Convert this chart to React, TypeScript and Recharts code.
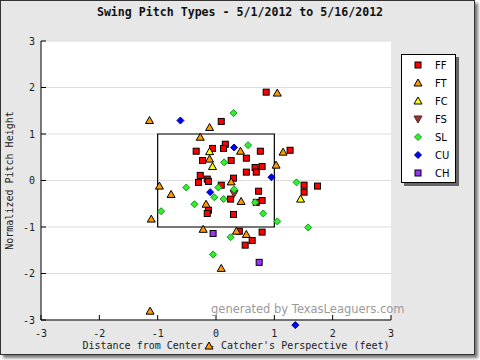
import { ScatterChart, Scatter, XAxis, YAxis, CartesianGrid, ReferenceArea } from "recharts"

// pitch locations [distance from center (ft), normalized height]
const ffPitches = [
  [0.09, 1.27], [-0.34, 0.63], [-0.06, 0.69], [-0.23, 0.43], [-0.27, 0.11],
  [0.86, 1.9], [0.16, 0.78], [0.13, 0.69], [0.76, 0.63], [1.27, 0.65],
  [0.26, 0.43], [0.52, 0.48], [0.52, 0.18], [0.67, 0.28], [0.69, 0.18],
  [0.79, 0.3], [0.3, 0.05], [-0.15, 0.03], [-0.13, -0.02], [-0.3, -0.04],
  [0.09, -0.1], [0.25, -0.4], [0.73, -0.23], [0.79, -0.43], [0.69, -0.47],
  [1.51, -0.1], [1.74, -0.12], [1.51, -0.25], [-0.13, -0.64], [-0.15, -0.71],
  [0.3, -0.73], [0.4, -1.09], [0.79, -1.11], [0.62, -1.29], [0.5, -1.39],
]
const ftPitches = [
  [-1.14, 1.29], [-0.11, 1.14], [-0.27, 0.93], [-0.11, 0.46], [1.05, 1.88],
  [0.42, 0.63], [1.15, 0.61], [1.03, 0.33], [0.26, -0.03], [0.43, -0.45],
  [-0.17, -0.51], [-0.22, -1.05], [0.35, -1.09], [0.52, -1.16], [0.09, -1.89],
  [-0.97, -0.12], [-0.77, -0.3], [-1.11, -0.83], [-1.13, -2.81], [-0.12, -3.56],
]
const fcPitches = [[-0.11, 0.62], [-0.06, 0.3], [1.45, -0.4]]
const fsPitches = [[0.31, -0.28]]
const slPitches = [
  [0.3, 1.45], [0.55, 0.76], [0.14, 0.39], [0.31, -0.19], [0.04, -0.15],
  [-0.03, -0.36], [0.13, -0.4], [0.67, -0.47], [1.38, -0.04], [0.81, -0.71],
  [1.05, -0.88], [1.58, -1.01], [0.25, -1.22], [-0.05, -1.59], [-0.51, -0.15],
  [-0.37, -0.51], [-0.94, -0.66],
]
const cuPitches = [[-0.61, 1.29], [0.31, 0.71], [0.95, 0.07], [-0.1, -0.25], [1.36, -3.11]]
const chPitches = [[-0.05, -1.14], [0.74, -1.76]]

const axisTicks = [-3, -2, -1, 0, 1, 2, 3]
const strikeZone = { x1: -1, x2: 1, y1: -1, y2: 1 }

const mono = "'DejaVu Sans Mono', monospace"

type Marker = "square" | "up" | "down" | "diamond"

const series = [
  { name: "FF", points: ffPitches, marker: "square", fill: "#ff0000", stroke: "#000000" },
  { name: "FT", points: ftPitches, marker: "up", fill: "#ff9900", stroke: "#000000" },
  { name: "FC", points: fcPitches, marker: "up", fill: "#ffff00", stroke: "#000000" },
  { name: "FS", points: fsPitches, marker: "down", fill: "#993333", stroke: "#552222" },
  { name: "SL", points: slPitches, marker: "diamond", fill: "#33ee33", stroke: "#119911" },
  { name: "CU", points: cuPitches, marker: "diamond", fill: "#0000ff", stroke: "#000088" },
  { name: "CH", points: chPitches, marker: "square", fill: "#9933ff", stroke: "#000000" },
]

function drawMarker(marker: Marker, cx: number, cy: number, fill: string, stroke: string) {
  if (marker === "square") {
    return <rect x={cx - 3} y={cy - 3} width={6} height={6} fill={fill} stroke={stroke} strokeWidth={1} />
  }
  if (marker === "up") {
    return <polygon points={`${cx},${cy - 4} ${cx + 4},${cy + 3} ${cx - 4},${cy + 3}`} fill={fill} stroke={stroke} strokeWidth={1} />
  }
  if (marker === "down") {
    return <polygon points={`${cx},${cy + 4} ${cx + 4},${cy - 3} ${cx - 4},${cy - 3}`} fill={fill} stroke={stroke} strokeWidth={1} />
  }
  return <polygon points={`${cx},${cy - 3.5} ${cx + 3.5},${cy} ${cx},${cy + 3.5} ${cx - 3.5},${cy}`} fill={fill} stroke={stroke} strokeWidth={1} />
}

const toRows = (pts: number[][]) => pts.map(([x, y]) => ({ x, y }))
const inside = (pts: number[][]) => toRows(pts.filter(([, y]) => y >= -3 && y <= 3))
const outside = (pts: number[][]) => toRows(pts.filter(([, y]) => y < -3 || y > 3))

export default function App() {
  return (
    <div style={{ position: "absolute", left: 0, top: 0, width: 480, height: 360, overflow: "hidden" }}>
      {/* frame */}
      <div
        style={{
          position: "absolute",
          left: 0,
          top: 0,
          width: 473,
          height: 353,
          border: "1px solid #333",
          background: "#e7e7e7",
          boxShadow: "3px 3px 3px #777",
        }}
      />

      <div
        style={{
          position: "absolute",
          left: 0,
          top: 5,
          width: 480,
          textAlign: "center",
          fontFamily: mono,
          fontWeight: "bold",
          fontSize: 11.6,
          color: "#111",
        }}
      >
        Swing Pitch Types - 5/1/2012 to 5/16/2012
      </div>

      <div style={{ position: "absolute", left: 0, top: 0 }}>
        <ScatterChart width={480} height={360} margin={{ top: 41, right: 89, bottom: 10, left: 11 }}>
          <CartesianGrid vertical={false} stroke="#dddddd" fill="#ffffff" />
          <XAxis
            type="number"
            dataKey="x"
            domain={[-3, 3]}
            ticks={axisTicks}
            allowDataOverflow
            height={30}
            stroke="#000"
            tickSize={-5}
            tickMargin={15}
            tick={{ fill: "#222", fontSize: 10, fontFamily: mono }}
            label={{
              value: "Distance from Center - Catcher's Perspective (feet)",
              position: "insideBottom",
              offset: 1,
              dx: 20,
              fill: "#222",
              fontSize: 10,
              fontFamily: mono,
            }}
          />
          <YAxis
            type="number"
            dataKey="y"
            domain={[-3, 3]}
            ticks={axisTicks}
            allowDataOverflow
            width={30}
            stroke="#000"
            tickSize={-5}
            tickMargin={11}
            tick={{ fill: "#222", fontSize: 10, fontFamily: mono }}
            label={{
              value: "Normalized Pitch Height",
              angle: -90,
              position: "insideLeft",
              offset: -2,
              style: { textAnchor: "middle" },
              fill: "#222",
              fontSize: 10,
              fontFamily: mono,
            }}
          />
          <ReferenceArea {...strikeZone} fill="none" fillOpacity={0} stroke="#000" strokeWidth={1.2} ifOverflow="visible" />
          {series.map((s) => (
            <Scatter
              key={s.name}
              name={s.name}
              data={inside(s.points)}
              isAnimationActive={false}
              shape={(p: any) => drawMarker(s.marker as Marker, p.cx, p.cy, s.fill, s.stroke)}
            />
          ))}
        </ScatterChart>
      </div>

      <div
        style={{
          position: "absolute",
          left: 211,
          top: 302,
          fontFamily: "'DejaVu Sans', sans-serif",
          fontSize: 11.5,
          color: "#9a9a9a",
          whiteSpace: "nowrap",
        }}
      >
        generated by TexasLeaguers.com
      </div>

      {/* pitches that fall off the plot area, same x scale, taller y range */}
      <div style={{ position: "absolute", left: 0, top: 0, pointerEvents: "none" }}>
        <ScatterChart width={480} height={360} margin={{ top: 41, right: 89, bottom: 5.125, left: 41 }}>
          <XAxis type="number" dataKey="x" domain={[-3, 3]} hide />
          <YAxis type="number" dataKey="y" domain={[-3.75, 3]} hide />
          {series.map((s) => (
            <Scatter
              key={s.name}
              name={s.name}
              data={outside(s.points)}
              isAnimationActive={false}
              shape={(p: any) => drawMarker(s.marker as Marker, p.cx, p.cy, s.fill, s.stroke)}
            />
          ))}
        </ScatterChart>
      </div>

      {/* legend */}
      <div
        style={{
          position: "absolute",
          left: 401,
          top: 54,
          width: 53,
          height: 126,
          border: "1px solid #000",
          background: "#fff",
          boxShadow: "3px 3px 0 #666",
          paddingTop: 1,
          boxSizing: "content-box",
        }}
      >
        {series.map((s) => (
          <div key={s.name} style={{ height: 18, display: "flex", alignItems: "center" }}>
            <svg width={12} height={12} style={{ marginLeft: 10 }}>
              {drawMarker(s.marker as Marker, 6, 6, s.fill, s.stroke)}
            </svg>
            <span
              style={{
                marginLeft: 11,
                fontFamily: "'DejaVu Sans', sans-serif",
                fontSize: 10,
                color: "#000",
              }}
            >
              {s.name}
            </span>
          </div>
        ))}
      </div>
    </div>
  )
}
